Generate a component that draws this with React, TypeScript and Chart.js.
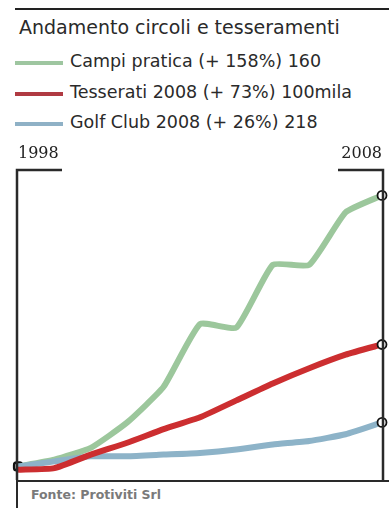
import React, { useEffect, useRef } from "react";
import { Chart, registerables } from "chart.js";

Chart.register(...registerables);

const years = ["1998", "1999", "2000", "2001", "2002", "2003", "2004", "2005", "2006", "2007", "2008"];
const campiPratica = [100, 104, 111, 126, 147, 184, 182, 219, 219, 250, 260];
const tesserati = [98, 99, 107, 114, 122, 129, 139, 149, 158, 166, 172];
const golfClub = [100, 103, 106, 106, 107, 108, 110, 113, 115, 119, 126];

const legendItems = [
  { label: "Campi pratica (+ 158%) 160", color: "#9ec6a0" },
  { label: "Tesserati 2008 (+ 73%) 100mila", color: "#b03a42" },
  { label: "Golf Club 2008 (+ 26%) 218", color: "#8fb1c6" },
];

const GREEN = "#9cc79c";
const RED = "#cc2e30";
const BLUE = "#8db3c8";

const framePlugin = {
  id: "frame",
  afterDraw(chart: any) {
    const { ctx, chartArea } = chart;
    const { left, right, top, bottom } = chartArea;
    ctx.save();
    ctx.strokeStyle = "#2a2a2a";
    ctx.lineWidth = 2.5;
    ctx.beginPath();
    ctx.moveTo(left - 1, bottom);
    ctx.lineTo(left - 1, top);
    ctx.lineTo(left + 44, top);
    ctx.moveTo(right - 44, top);
    ctx.lineTo(right + 1, top);
    ctx.lineTo(right + 1, bottom);
    ctx.stroke();
    ctx.restore();
  },
};

function pointArr(n: number, last: any, first: any, other: any) {
  return years.map((_, i) => (i === n - 1 ? last : i === 0 ? first : other));
}

export default function App() {
  const ref = useRef<HTMLCanvasElement | null>(null);

  useEffect(() => {
    if (!ref.current) return;
    const n = years.length;
    const mk = (label: string, data: number[], color: string, order: number, withStart: boolean) => ({
      label,
      data,
      borderColor: color,
      borderWidth: 6,
      tension: 0.15,
      order,
      clip: false as any,
      pointRadius: pointArr(n, 4.5, withStart ? 4.5 : 0, 0),
      pointStyle: years.map((_, i) => (i === 0 ? "rectRounded" : "circle")),
      pointBackgroundColor: "#ffffff",
      pointBorderColor: "#111111",
      pointBorderWidth: pointArr(n, 1.8, 2.5, 0),
    });
    const chart = new Chart(ref.current, {
      type: "line",
      data: {
        labels: years,
        datasets: [
          mk("Campi pratica", campiPratica, GREEN, 2, true),
          mk("Golf Club", golfClub, BLUE, 1, false),
          mk("Tesserati", tesserati, RED, 0, false),
        ],
      },
      plugins: [framePlugin],
      options: {
        animation: false,
        responsive: false,
        maintainAspectRatio: false,
        layout: { autoPadding: false, padding: { left: 18, right: 2, top: 0, bottom: 0 } },
        plugins: { legend: { display: false }, tooltip: { enabled: false } },
        scales: {
          x: {
            position: "top",
            offset: false,
            grid: { display: false, drawTicks: false },
            border: { display: false },
            afterFit: (axis: any) => {
              axis.height = 30;
            },
            ticks: {
              autoSkip: false,
              maxRotation: 0,
              align: "inner",
              padding: 7,
              color: "#222",
              font: { family: "'DejaVu Serif'", size: 16 },
              callback: (_v: any, i: number) => (i === 0 || i === years.length - 1 ? years[i] : ""),
            },
          },
          y: {
            display: false,
            min: 92,
            max: 275,
          },
        },
      },
    });
    return () => chart.destroy();
  }, []);

  const sans = "'DejaVu Sans', sans-serif";

  return (
    <div style={{ position: "fixed", left: 0, top: 0, width: 389, height: 508, background: "#fff", overflow: "hidden" }}>
      <div style={{ position: "absolute", left: 15, top: 8, width: 374, height: 2, background: "#222" }} />
      <div style={{ position: "absolute", left: 19, top: 16, fontFamily: sans, fontSize: 19, color: "#2a2a2a", whiteSpace: "nowrap" }}>
        Andamento circoli e tesseramenti
      </div>
      {legendItems.map((it, i) => (
        <div key={it.label}>
          <div style={{ position: "absolute", left: 15, top: 61 + i * 30.5, width: 48, height: 4, background: it.color }} />
          <div style={{ position: "absolute", left: 70, top: 51 + i * 30.5, fontFamily: sans, fontSize: 17.5, color: "#2a2a2a", whiteSpace: "nowrap" }}>
            {it.label}
          </div>
        </div>
      ))}
      <canvas ref={ref} width={389} height={340} style={{ position: "absolute", left: 0, top: 140, width: 389, height: 340 }} />
      <div style={{ position: "absolute", left: 16, top: 480, width: 373, height: 2, background: "#2a2a2a" }} />
      <div style={{ position: "absolute", left: 16, top: 480, width: 2, height: 28, background: "#2a2a2a" }} />
      <div style={{ position: "absolute", left: 31, top: 487, fontFamily: sans, fontSize: 12.5, fontWeight: "bold", color: "#7a7a7a", whiteSpace: "nowrap" }}>
        Fonte: Protiviti Srl
      </div>
    </div>
  );
}
